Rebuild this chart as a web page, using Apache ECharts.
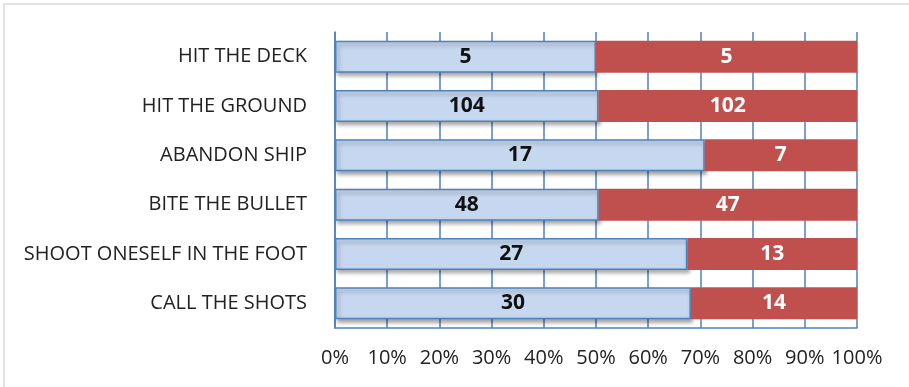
<!DOCTYPE html>
<html>
<head>
<meta charset="utf-8">
<script src="https://cdn.jsdelivr.net/npm/echarts@6/dist/echarts.min.js"></script>
<style>
  html, body { margin: 0; padding: 0; background: #fff; }
  #wrap { position: relative; width: 909px; height: 387px; }
  #chart { width: 909px; height: 387px; }
  #frame { position: absolute; left: 3px; top: 3px; right: 0; bottom: 0;
           border-left: 2px solid #e2e2e2; border-top: 2px solid #e2e2e2; pointer-events: none; }
</style>
</head>
<body>
<div id="wrap"><div id="chart"></div><div id="frame"></div></div>
<script>
// Idioms and their two counts
const categories = [
  'HIT THE DECK',
  'HIT THE GROUND',
  'ABANDON SHIP',
  'BITE THE BULLET',
  'SHOOT ONESELF IN THE FOOT',
  'CALL THE SHOTS'
];
const firstCounts = [5, 104, 17, 48, 27, 30];
const secondCounts = [5, 102, 7, 47, 13, 14];
const percentTicks = [0, 10, 20, 30, 40, 50, 60, 70, 80, 90, 100];

const share = (a, b) => a.map((v, i) => v / (v + b[i]) * 100);
const firstShare = share(firstCounts, secondCounts);
const secondShare = share(secondCounts, firstCounts);

const blue = '#4F81BD';
const font = '"Open Sans", Lato, sans-serif';

const chart = echarts.init(document.getElementById('chart'));
chart.setOption({
  animation: false,
  grid: { left: 335, right: 52, top: 32, bottom: 59 },
  xAxis: {
    type: 'value',
    min: 0, max: 100, interval: 10,
    axisLine: { show: true, lineStyle: { color: blue, width: 1.5 } },
    axisTick: { show: false },
    splitLine: { show: true, lineStyle: { color: blue, width: 1.5 } },
    axisLabel: {
      margin: 20,
      fontFamily: font, fontSize: 20, color: '#222',
      formatter: v => percentTicks.includes(v) ? v + '%' : ''
    }
  },
  yAxis: {
    type: 'category',
    data: categories,
    inverse: true,
    axisLine: { show: true, lineStyle: { color: blue, width: 1.5 } },
    axisTick: { show: false },
    axisLabel: { margin: 28, fontFamily: font, fontSize: 20, color: '#222' }
  },
  series: [
    {
      type: 'bar', stack: 'total',
      data: firstShare,
      barCategoryGap: '35%',
      itemStyle: {
        color: '#C6D8EF', borderColor: blue, borderWidth: 1.5,
        shadowColor: 'rgba(0,0,0,0.35)', shadowBlur: 4, shadowOffsetX: 2, shadowOffsetY: 3
      },
      label: {
        show: true, position: 'inside',
        fontFamily: font, fontSize: 21, fontWeight: 'bold', color: '#111',
        formatter: p => firstCounts[p.dataIndex]
      },
      z: 2
    },
    {
      type: 'bar', stack: 'total',
      data: secondShare,
      itemStyle: { color: '#C0504D' },
      label: {
        show: true, position: 'inside',
        fontFamily: font, fontSize: 21, fontWeight: 'bold', color: '#fff',
        formatter: p => secondCounts[p.dataIndex]
      },
      z: 3
    }
  ]
});
</script>
</body>
</html>
